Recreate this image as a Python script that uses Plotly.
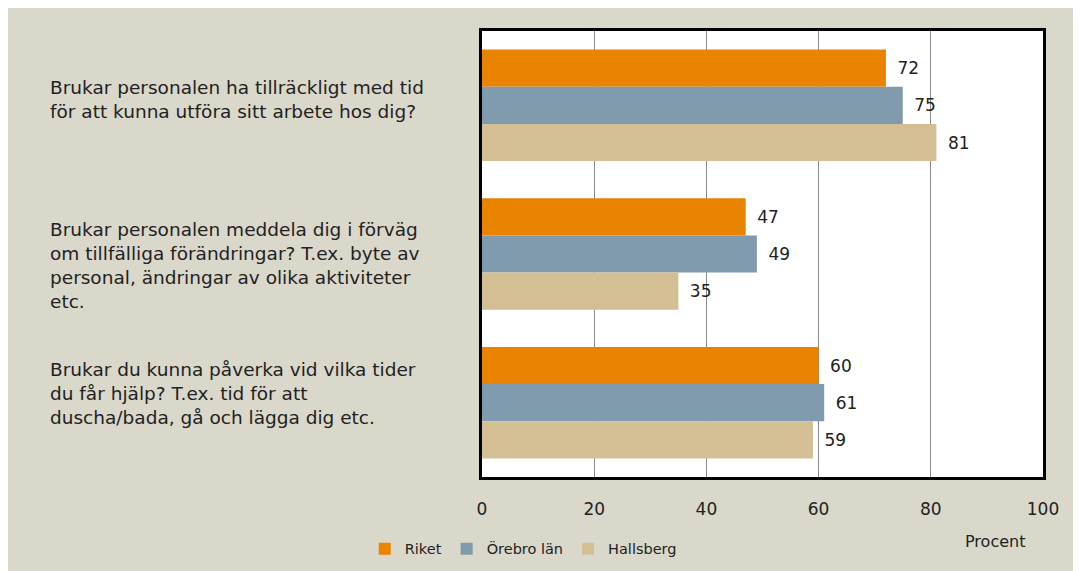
import plotly.graph_objects as go

# questions (y categories), top to bottom
questions = [
    "Brukar personalen ha tillräckligt med tid<br>för att kunna utföra sitt arbete hos dig?",
    "Brukar personalen meddela dig i förväg<br>om tillfälliga förändringar? T.ex. byte av<br>personal, ändringar av olika aktiviteter<br>etc.",
    "Brukar du kunna påverka vid vilka tider<br>du får hjälp? T.ex. tid för att<br>duscha/bada, gå och lägga dig etc.",
]
q_keys = ["q1", "q2", "q3"]

riket = [72, 47, 60]
orebro = [75, 49, 61]
hallsberg = [81, 35, 59]

series = [
    ("Riket", riket, "#E98300"),
    ("Örebro län", orebro, "#7F9BAD"),
    ("Hallsberg", hallsberg, "#D4BF95"),
]

font = "DejaVu Sans"
bg = "#DAD8CB"
txt = "#222222"

fig = go.Figure()
for name, vals, col in series:
    fig.add_trace(go.Bar(
        y=q_keys, x=vals, name=name, orientation="h",
        marker=dict(color=col, line=dict(width=0)),
        text=vals, texttemplate="\u2002%{x}", textposition="outside",
        textfont=dict(family=font, size=17, color=txt),
        cliponaxis=False,
    ))

# category labels, left aligned
shifts = [6, -11, 9]
for key, q, s in zip(q_keys, questions, shifts):
    fig.add_annotation(x=-0.774, xref="paper", y=key, yref="y", text=q, showarrow=False,
                       xanchor="left", align="left", yshift=s,
                       font=dict(family=font, size=18.5, color=txt))

fig.add_annotation(x=0.914, xref="paper", y=-0.1435, yref="paper", text="Procent", showarrow=False,
                   xanchor="center", yanchor="middle",
                   font=dict(family=font, size=16, color=txt))

fig.update_layout(
    width=1073, height=563,
    margin=dict(l=474, r=38, t=23, b=94, autoexpand=False),
    paper_bgcolor=bg, plot_bgcolor="white",
    barmode="group", bargap=0.25, bargroupgap=0,
    showlegend=True,
    legend=dict(orientation="h", x=-0.209, y=-0.161, xanchor="left", yanchor="middle",
                font=dict(family=font, size=14.5, color=txt), bgcolor="rgba(0,0,0,0)",
                itemwidth=30, tracegroupgap=0),
    font=dict(family=font, color=txt),
)
fig.update_xaxes(range=[0, 100], dtick=20, showgrid=True, gridcolor="#8a8a8a", gridwidth=1,
                 showline=True, linecolor="black", linewidth=3, mirror=True, zeroline=False,
                 ticks="", ticklabelstandoff=15, tickfont=dict(family=font, size=17, color=txt))
fig.update_yaxes(autorange="reversed", showticklabels=False, showgrid=False,
                 showline=True, linecolor="black", linewidth=3, mirror=True, ticks="")

fig.write_html("out.html")
